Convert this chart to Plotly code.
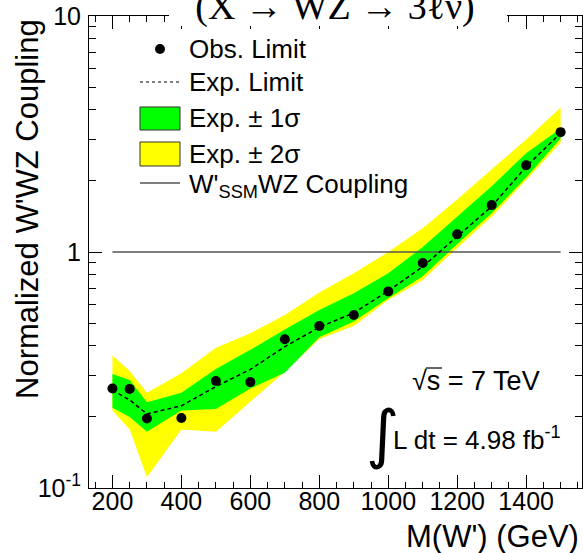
import plotly.graph_objects as go

# W' mass points (GeV)
mass = [200, 250, 300, 400, 500, 600, 700, 800, 900, 1000, 1100, 1200, 1300, 1400, 1500]

# Normalized W'WZ coupling limits
obs_limit = [0.264, 0.263, 0.197, 0.198, 0.284, 0.281, 0.427, 0.486, 0.541, 0.681,
             0.898, 1.19, 1.58, 2.33, 3.22]
exp_limit = [0.260, 0.236, 0.206, 0.223, 0.269, 0.318, 0.397, 0.480, 0.552, 0.684,
             0.867, 1.16, 1.56, 2.30, 3.19]
exp_1s_lo = [0.219, 0.200, 0.173, 0.213, 0.216, 0.264, 0.308, 0.435, 0.507, 0.637,
             0.79, 1.08, 1.46, 2.07, 3.03]
exp_1s_hi = [0.304, 0.287, 0.231, 0.253, 0.319, 0.385, 0.470, 0.568, 0.668, 0.812,
             1.05, 1.41, 1.90, 2.62, 3.34]
exp_2s_lo = [0.213, 0.177, 0.111, 0.177, 0.173, 0.232, 0.311, 0.428, 0.486, 0.626,
             0.761, 1.04, 1.41, 2.02, 2.90]
exp_2s_hi = [0.364, 0.313, 0.253, 0.306, 0.393, 0.453, 0.541, 0.673, 0.812, 1.00,
             1.26, 1.67, 2.24, 3.00, 4.10]
ssm_coupling = 1.0

x_ticks = [200, 400, 600, 800, 1000, 1200, 1400]
y_ticks = [0.1, 1, 10]
y_ticktext = ["10<sup>-1</sup>", "1", "10"]

W, H = 583, 553
ML, MR, MT, MB = 89, 1, 16, 65
PW, PH = W - ML - MR, H - MT - MB


def px(x):
    return (x - ML) / PW


def py(y):
    return (H - MB - y) / PH


FONT = "Liberation Sans, Arial, Helvetica, sans-serif"
GREEN = "#00ff00"
YELLOW = "#ffff00"

fig = go.Figure()

# +-2 sigma band
fig.add_trace(go.Scatter(
    x=mass + mass[::-1], y=exp_2s_hi + exp_2s_lo[::-1],
    fill="toself", fillcolor=YELLOW, line=dict(width=0), mode="lines",
    hoverinfo="skip", showlegend=False))
# +-1 sigma band
fig.add_trace(go.Scatter(
    x=mass + mass[::-1], y=exp_1s_hi + exp_1s_lo[::-1],
    fill="toself", fillcolor=GREEN, line=dict(width=0), mode="lines",
    hoverinfo="skip", showlegend=False))
# SSM reference coupling
fig.add_trace(go.Scatter(
    x=[mass[0], mass[-1]], y=[ssm_coupling, ssm_coupling], mode="lines",
    line=dict(color="#555555", width=1.5), showlegend=False))
# expected limit
fig.add_trace(go.Scatter(
    x=mass, y=exp_limit, mode="lines",
    line=dict(color="black", width=1.5, dash="4px,3px"), showlegend=False))
# observed limit
fig.add_trace(go.Scatter(
    x=mass, y=obs_limit, mode="markers",
    marker=dict(color="black", size=10), showlegend=False))

axis_common = dict(
    showgrid=False, zeroline=False, showline=True, linecolor="black", linewidth=1,
    mirror="allticks", ticks="inside", ticklen=13, tickwidth=1, tickcolor="black",
    tickfont=dict(family=FONT, size=25, color="black"),
)

fig.update_xaxes(
    range=[132, 1562], tickvals=x_ticks, ticklabelstandoff=-9,
    minor=dict(dtick=50, ticks="inside", ticklen=6, tickwidth=1, tickcolor="black"),
    **axis_common)
fig.update_yaxes(
    type="log", range=[-1, 1], tickvals=y_ticks, ticktext=y_ticktext,
    ticklabelstandoff=2,
    minor=dict(tickvals=[v * 10 ** d for d in (-1, 0) for v in range(2, 10)],
               ticks="inside", ticklen=7, tickwidth=1, tickcolor="black"),
    **axis_common)

shapes = []
annotations = []

# legend
lx0, lx1 = 140, 180
shapes.append(dict(type="circle", xref="paper", yref="paper",
                   x0=px(155), x1=px(165), y0=py(54), y1=py(44),
                   fillcolor="black", line=dict(width=0)))
shapes.append(dict(type="line", xref="paper", yref="paper",
                   x0=px(lx0), x1=px(lx1), y0=py(82), y1=py(82),
                   line=dict(color="black", width=1, dash="dot")))
shapes.append(dict(type="rect", xref="paper", yref="paper",
                   x0=px(lx0), x1=px(lx1), y0=py(130), y1=py(107),
                   fillcolor=GREEN, line=dict(color="#333333", width=1)))
shapes.append(dict(type="rect", xref="paper", yref="paper",
                   x0=px(lx0), x1=px(lx1), y0=py(166), y1=py(142),
                   fillcolor=YELLOW, line=dict(color="#333333", width=1)))
shapes.append(dict(type="line", xref="paper", yref="paper",
                   x0=px(lx0), x1=px(lx1), y0=py(183), y1=py(183),
                   line=dict(color="#555555", width=1.5)))

legend_items = [
    ("Obs. Limit", 49),
    ("Exp. Limit", 82),
    ("Exp. ± 1σ", 118),
    ("Exp. ± 2σ", 154),
    ("W'<sub>SSM</sub>WZ Coupling", 185),
]
for text, yy in legend_items:
    annotations.append(dict(
        text=text, xref="paper", yref="paper", x=px(187), y=py(yy),
        xanchor="left", yanchor="middle", showarrow=False,
        font=dict(family=FONT, size=26, color="black")))

# white title box over the top frame
shapes.append(dict(type="rect", xref="paper", yref="paper", layer="above",
                   x0=px(169), x1=px(507), y0=py(26), y1=py(-20),
                   fillcolor="white", line=dict(width=0)))

# energy and luminosity
annotations.append(dict(
    text="√s = 7 TeV", xref="paper", yref="paper", x=px(476), y=py(381),
    xanchor="center", yanchor="middle", showarrow=False,
    font=dict(family=FONT, size=27, color="black")))
shapes.append(dict(type="line", xref="paper", yref="paper",
                   x0=px(426), x1=px(442), y0=py(368), y1=py(368),
                   line=dict(color="black", width=1.2)))
annotations.append(dict(
    text="∫", xref="paper", yref="paper", x=px(382), y=py(434),
    xanchor="center", yanchor="middle", showarrow=False,
    font=dict(family="DejaVu Sans, sans-serif", size=64, color="black")))
annotations.append(dict(
    text="L dt = 4.98 fb<sup>-1</sup>", xref="paper", yref="paper",
    x=px(391), y=py(438), xanchor="left", yanchor="middle", showarrow=False,
    font=dict(family=FONT, size=26, color="black")))

# axis titles
annotations.append(dict(
    text="Normalized W'WZ Coupling", xref="paper", yref="paper",
    x=px(27), y=py(209), xanchor="center", yanchor="middle", textangle=-90,
    showarrow=False, font=dict(family=FONT, size=31, color="black")))
annotations.append(dict(
    text="M(W') (GeV)", xref="paper", yref="paper",
    x=px(581), y=py(536), xanchor="right", yanchor="middle",
    showarrow=False, font=dict(family=FONT, size=31, color="black")))

fig.update_layout(
    width=W, height=H,
    margin=dict(l=ML, r=MR, t=MT, b=MB, pad=0),
    paper_bgcolor="white", plot_bgcolor="white",
    shapes=shapes, annotations=annotations,
    showlegend=False,
    title=dict(
        text="(X → WZ → 3ℓν)", xref="paper", x=px(335), xanchor="center",
        yref="container", y=1 - 6 / H, yanchor="middle",
        font=dict(family="Liberation Serif, Times New Roman, serif", size=38,
                  color="black")),
)

fig.write_html("out.html")
